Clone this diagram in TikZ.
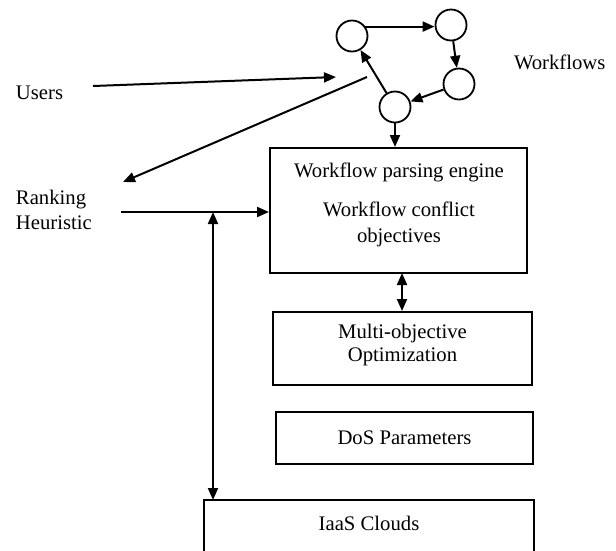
\documentclass[tikz,border=0pt]{standalone}
\usepackage{fontspec}
\setmainfont{Liberation Serif}
\usetikzlibrary{arrows.meta}
\begin{document}
\begin{tikzpicture}[x=1pt,y=-1pt,
  line width=2pt,
  arr/.style={-{Triangle[length=12pt,width=10pt]}},
  darr/.style={{Triangle[length=12pt,width=10pt]}-{Triangle[length=12pt,width=10pt]}},
  wf/.style={circle,draw,minimum size=31pt,inner sep=0pt,line width=1.8pt},
  box/.style={draw,rectangle,inner sep=0pt},
  lbl/.style={font=\fontsize{20.7}{25}\selectfont,inner sep=0pt,align=center},
  lbll/.style={lbl,align=left,anchor=west}
]
\useasboundingbox (0,0) rectangle (616,550);

% workflow graph
\node[wf] (A) at (352,36) {};
\node[wf] (B) at (451,25) {};
\node[wf] (C) at (459,84) {};
\node[wf] (D) at (395,107) {};
\node[lbll] (wflabel) at (513,62) {Workflows};

% boxes
\node[box,minimum width=257pt,minimum height=125pt] (engine) at (398.5,210.5) {};
\node[box,minimum width=259pt,minimum height=73pt] (moo) at (402.5,348.5) {};
\node[box,minimum width=257pt,minimum height=52pt] (dos) at (404.5,438) {};
\node[rectangle,inner sep=0pt,minimum width=328pt,minimum height=49pt] (iaas) at (369,525.5) {};
\draw (iaas.south west) -- (iaas.north west) -- (iaas.north east) -- (iaas.south east);

% texts
\node[lbl] (t1) at (399,172) {Workflow parsing engine};
\node[lbl,font=\fontsize{20.7}{26}\selectfont] (t2) at (399,224) {Workflow conflict\\objectives};
\node[lbl,font=\fontsize{20.7}{23}\selectfont] (t3) at (402.5,345.5) {Multi-objective\\Optimization};
\node[lbl] (t4) at (404.5,438) {DoS Parameters};
\node[lbl] (t5) at (369,523) {IaaS Clouds};
\node[lbll] (users) at (15,93) {Users};
\node[lbll] (rank) at (15,210) {Ranking\\Heuristic};

% free-end coordinates
\coordinate (u1) at (93,86);
\coordinate (u2) at (336,77);
\coordinate (b1) at (367,77);
\coordinate (b2) at (123,182);
\coordinate (r1) at (121,212);
\coordinate (v1) at (213,212);

% workflow arrows
\draw[arr] (A.35) -- (B.west |- A.35);
\draw[arr] (B) -- (C);
\draw[arr] (C) -- (D);
\draw[arr] (D) -- (A);
\draw[arr] (D.south) -- (D.south |- engine.north);

% other connectors
\draw[arr] (u1) -- (u2);
\draw[arr] (b1) -- (b2);
\draw[arr] (r1) -- (r1 -| engine.west);
\draw[darr] (v1) -- (v1 |- iaas.north);
\draw[darr] (402,273) coordinate (e1) -- (e1 |- moo.north);
\end{tikzpicture}
\end{document}
